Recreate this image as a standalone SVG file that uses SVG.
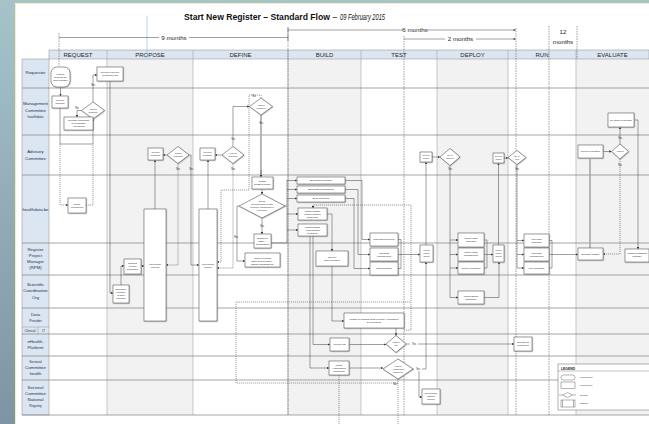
<svg xmlns="http://www.w3.org/2000/svg" width="649" height="424" viewBox="0 0 649 424">
<style>
.lane{stroke:#7f7f7f;stroke-width:0.7}
.col{stroke:#a6a6a6;stroke-width:0.6}
.hdr{fill:#dce6f2;stroke:#8c8c8c;stroke-width:0.5}
.ht{font-family:"Liberation Sans",Arial,sans-serif;font-size:6px;fill:#262626;text-anchor:middle}
.lbl{font-family:"Liberation Sans",Arial,sans-serif;font-size:4.3px;fill:#203050;text-anchor:middle}
.lbs{font-family:"Liberation Sans",Arial,sans-serif;font-size:3.4px;fill:#203050;text-anchor:middle}
.b{fill:#fff;stroke:#404040;stroke-width:0.5;filter:url(#ds)}
.t{font-family:"Liberation Sans",Arial,sans-serif;font-size:2.4px;fill:#222;text-anchor:middle}
.ts{font-family:"Liberation Sans",Arial,sans-serif;font-size:2.1px;fill:#222;text-anchor:middle}
.yn{font-family:"Liberation Sans",Arial,sans-serif;font-size:2.6px;fill:#222;text-anchor:middle}
.c{fill:none;stroke:#404040;stroke-width:0.5}
.ca{fill:none;stroke:#404040;stroke-width:0.5;marker-end:url(#ah)}
.d{fill:none;stroke:#404040;stroke-width:0.5;stroke-dasharray:1.2 0.8}
.da{fill:none;stroke:#404040;stroke-width:0.5;stroke-dasharray:1.2 0.8;marker-end:url(#ah)}
.th{fill:none;stroke:#a6a6a6;stroke-width:1.6}
.tl{fill:none;stroke:#404040;stroke-width:0.5}
.tld{fill:none;stroke:#404040;stroke-width:0.5;stroke-dasharray:1.5 1}
.mt{font-family:"Liberation Sans",Arial,sans-serif;font-size:6.2px;fill:#262626;text-anchor:middle}
.tt{font-family:"Liberation Sans",Arial,sans-serif;font-size:8.4px;fill:#111}
</style>
<defs>
<linearGradient id="bg" x1="0" y1="0" x2="0" y2="1"><stop offset="0" stop-color="#a6c3ca"/><stop offset="1" stop-color="#7d95a2"/></linearGradient>
<filter id="ds" x="-20%" y="-20%" width="150%" height="150%"><feDropShadow dx="0.5" dy="0.5" stdDeviation="0.3" flood-color="#888" flood-opacity="0.8"/></filter>
<marker id="ah" viewBox="0 0 6 6" refX="5.6" refY="3" markerWidth="2.4" markerHeight="2.4" markerUnits="userSpaceOnUse" orient="auto"><path d="M0,0 L6,3 L0,6 z" fill="#333"/></marker>
</defs>

<g id="background">
<rect width="649" height="424" fill="url(#bg)"/>
<rect x="15" y="3" width="634" height="421" fill="#f4f1b8"/>
<rect x="16.2" y="4" width="633" height="420" fill="#ffffff"/>
</g>

<g id="grid">
<rect x="107" y="59" width="86" height="356" fill="#f2f2f2"/>
<rect x="288" y="59" width="73" height="356" fill="#f2f2f2"/>
<rect x="437" y="59" width="71" height="356" fill="#f2f2f2"/>
<rect x="576" y="59" width="73" height="356" fill="#f2f2f2"/>
<rect class="hdr" x="49" y="50" width="600" height="9"/>
<rect class="hdr" x="22" y="59" width="27" height="356"/>
<g class="col">
<line x1="107" y1="50" x2="107" y2="415"/><line x1="193" y1="50" x2="193" y2="415"/>
<line x1="288" y1="50" x2="288" y2="415"/><line x1="361" y1="50" x2="361" y2="415"/>
<line x1="437" y1="50" x2="437" y2="415"/><line x1="508" y1="50" x2="508" y2="415"/>
<line x1="576" y1="50" x2="576" y2="415"/>
</g>
<g class="lane">
<line x1="22" y1="88" x2="649" y2="88"/><line x1="22" y1="135" x2="649" y2="135"/>
<line x1="22" y1="175" x2="649" y2="175"/><line x1="22" y1="243" x2="649" y2="243"/>
<line x1="22" y1="275" x2="649" y2="275"/><line x1="22" y1="308" x2="649" y2="308"/>
<line x1="22" y1="334" x2="649" y2="334"/><line x1="22" y1="356" x2="649" y2="356"/>
<line x1="22" y1="380" x2="649" y2="380"/><line x1="22" y1="415" x2="649" y2="415"/>
<line x1="22" y1="327" x2="49" y2="327" stroke-width="0.4"/><line x1="38" y1="327" x2="38" y2="334" stroke-width="0.4"/>
</g>
<text class="ht" x="78" y="57.3">REQUEST</text>
<text class="ht" x="150" y="57.3">PROPOSE</text>
<text class="ht" x="240.5" y="57.3">DEFINE</text>
<text class="ht" x="324.5" y="57.3">BUILD</text>
<text class="ht" x="399" y="57.3">TEST</text>
<text class="ht" x="472.5" y="57.3">DEPLOY</text>
<text class="ht" x="542" y="57.3">RUN</text>
<text class="ht" x="612.5" y="57.3">EVALUATE</text>
<text class="lbl" x="35.5" y="73.5">Requestor</text>
<text class="lbl" x="35.5" y="105">Management</text>
<text class="lbl" x="35.5" y="111.5">Committee</text>
<text class="lbs" x="35.5" y="118">healthdata</text>
<text class="lbl" x="35.5" y="153">Advisory</text>
<text class="lbl" x="35.5" y="159.5">Committee</text>
<text class="lbl" x="35.5" y="211">healthdata.be</text>
<text class="lbl" x="35.5" y="251">Register</text>
<text class="lbl" x="35.5" y="257">Project</text>
<text class="lbl" x="35.5" y="263">Manager</text>
<text class="lbl" x="35.5" y="269">(RPM)</text>
<text class="lbl" x="35.5" y="286">Scientific</text>
<text class="lbl" x="35.5" y="292">Coordination</text>
<text class="lbl" x="35.5" y="298.5">Org</text>
<text class="lbl" x="35.5" y="316">Data</text>
<text class="lbs" x="35.5" y="322">Provider</text>
<text class="lbs" x="30" y="332.3">Clinical</text>
<text class="lbs" x="43.5" y="332.3">IT</text>
<text class="lbl" x="35.5" y="343">eHealth-</text>
<text class="lbl" x="35.5" y="349">Platform</text>
<text class="lbs" x="35.5" y="362.5">Sectoral</text>
<text class="lbl" x="35.5" y="369">Committee</text>
<text class="lbl" x="35.5" y="375">health</text>
<text class="lbl" x="35.5" y="389">Sectoral</text>
<text class="lbl" x="35.5" y="395">Committee</text>
<text class="lbl" x="35.5" y="401">National</text>
<text class="lbs" x="35.5" y="407">Registry</text>
</g>

<g id="title">
<text class="tt" x="184" y="20" font-weight="bold" textLength="146" lengthAdjust="spacingAndGlyphs">Start New Register – Standard Flow</text>
<text class="tt" x="332.5" y="20">–</text>
<text class="tt" x="340" y="20" font-size="6.8" font-style="italic" textLength="45" lengthAdjust="spacingAndGlyphs">09 February 2015</text>
</g>

<g id="timeline">
<line x1="147" y1="16" x2="147" y2="59" stroke="#9dc3e6" stroke-width="0.7"/>
<line class="tld" x1="59" y1="33" x2="59" y2="66"/>
<path class="tl" d="M59,37.5 H159 M189,37.5 H288 M288,34 V41"/>
<text class="mt" x="174" y="39.6">9 months</text>
<line class="tld" x1="288" y1="28" x2="288" y2="415"/>
<path class="tl" d="M288,27 V33 M288,30 H403 M427,30 H515"/>
<path d="M516,30 l-2.4,-1.1 v2.2 z" fill="#333"/>
<text class="mt" x="415" y="32">6 months</text>
<line class="tld" x1="404" y1="36" x2="404" y2="415"/>
<path class="tl" d="M404,39 H445 M476,39 H515"/>
<path d="M516,39 l-2.4,-1.1 v2.2 z" fill="#333"/>
<text class="mt" x="460.5" y="41">2 months</text>
<line class="tld" x1="516" y1="28" x2="516" y2="415"/>
<line class="tld" x1="549" y1="26" x2="549" y2="415"/>
<line class="tld" x1="577" y1="26" x2="577" y2="59"/>
<text class="mt" x="563" y="34" font-size="5.6">12</text>
<text class="mt" x="563" y="44" font-size="5.6">months</text>
</g>

<g id="connectors">
<path class="ca" d="M60.5,87 V96"/>
<path class="ca" d="M60,108 V144 H93 V119.2"/>
<path class="ca" d="M81.5,110.5 H77 V117"/>
<path class="ca" d="M93,102 V75 H97"/>
<path class="da" d="M60,144 V205 H68"/>
<path class="d" d="M86,205 H93 V144"/>
<path class="ca" d="M110,81 V293 H113"/>
<path class="ca" d="M121,285 V266 H124"/>
<path class="ca" d="M141,266 H144"/>
<path class="ca" d="M155,209 V160"/>
<path class="ca" d="M167,155 H163"/>
<path class="da" d="M178,163.5 V265 H166"/>
<path class="ca" d="M189,155 H191 V265 H199"/>
<path class="ca" d="M208,209 V160"/>
<path class="ca" d="M222,155 H215"/>
<path class="ca" d="M233,146.5 V106.5 H249.5"/>
<path class="da" d="M233,163.5 V268 H217"/>
<path class="th" d="M261,115 V176"/>
<path class="ca" d="M261,170 V177"/>
<path class="da" d="M261,98 V95 H249 V190 H221 V262 H217"/>
<path class="ca" d="M262,189 V194"/>
<path class="ca" d="M262,218 V234"/>
<path class="ca" d="M239,206 H237 V261 H245"/>
<path class="c" d="M271,243 H287 V180 M285,206 H287"/>
<path class="ca" d="M287,180.5 H297"/>
<path class="ca" d="M287,189.5 H297"/>
<path class="ca" d="M287,198.5 H297"/>
<path class="ca" d="M287,214 H298"/>
<path class="ca" d="M287,230 H298"/>
<path class="ca" d="M345,180.5 H362 V239.5 H370"/>
<path class="ca" d="M345,189.5 H358 V254.5 H370"/>
<path class="ca" d="M345,198.5 H354 V268.5 H370"/>
<path class="c" d="M398,239.5 H401 V268.5 H398"/>
<path class="ca" d="M398,254.5 H420"/>
<path class="ca" d="M426,245 V162"/>
<path class="ca" d="M432,157 H440"/>
<path class="c" d="M450,165.5 V297.5"/>
<path class="ca" d="M450,240 H458"/>
<path class="ca" d="M450,254.5 H458"/>
<path class="ca" d="M450,268 H458"/>
<path class="ca" d="M450,297.5 H458"/>
<path class="c" d="M484,240 H487 V268 H484"/>
<path class="ca" d="M484,254.5 H493"/>
<path class="ca" d="M484,297.5 H499 V262"/>
<path class="ca" d="M498.5,245 V163"/>
<path class="ca" d="M504,158 H508"/>
<path class="c" d="M517,164.5 V268"/>
<path class="ca" d="M517,240.5 H524"/>
<path class="ca" d="M517,254.5 H524"/>
<path class="ca" d="M517,268 H524"/>
<path class="c" d="M549,240.5 H552 V268 H549"/>
<path class="ca" d="M549,254.5 H578"/>
<path class="th" d="M590,248 V159"/>
<path class="ca" d="M603,151.5 H611.5"/>
<path class="ca" d="M620,144 V127"/>
<path class="da" d="M620,159 V254 H603"/>
<path class="ca" d="M634,120 H638 V249"/>
<path class="ca" d="M327,214 H332 V251"/>
<path class="ca" d="M332,266 V321 H344"/>
<path class="ca" d="M313,236 V344.5 H330"/>
<path class="ca" d="M310,236 V368 H329"/>
<path class="ca" d="M349,344.5 H386"/>
<path class="ca" d="M396,328 V335.5"/>
<path class="ca" d="M406,344 H514"/>
<path class="ca" d="M349,368 H383"/>
<path class="ca" d="M413,369 H426 V262"/>
<path class="ca" d="M419,369 V397 H422"/>
<path class="da" d="M404,330 H411 V205 H313 V208"/>
<path class="d" d="M398,379 V383 H236 V302 H411"/>
<path class="d" d="M339,375 V424"/>
<path class="d" d="M398,383 V424"/>
<text class="yn" x="93" y="86">Yes</text>
<text class="yn" x="77" y="109">No</text>
<text class="yn" x="178" y="170">No</text>
<text class="yn" x="191" y="170">Yes</text>
<text class="yn" x="233" y="140">Yes</text>
<text class="yn" x="233" y="170">No</text>
<text class="yn" x="254" y="97">No</text>
<text class="yn" x="261" y="124">Yes</text>
<text class="yn" x="262" y="227">Yes</text>
<text class="yn" x="236" y="238">No</text>
<text class="yn" x="450" y="169.5">Yes</text>
<text class="yn" x="517" y="169.5">Yes</text>
<text class="yn" x="620" y="139">Yes</text>
<text class="yn" x="620" y="166">No</text>
<rect x="410" y="342" width="8" height="4" fill="#fff"/>
<text class="yn" x="414" y="345">Yes</text>
<rect x="414" y="367" width="8" height="4" fill="#fff"/>
<text class="yn" x="418" y="370">Yes</text>
<text class="yn" x="395" y="385">No</text>
</g>

<g id="n-launch"><rect class="b" x="51" y="67" width="19" height="20" rx="6"/><text class="t" x="60.5" y="74.9">Launch</text><text class="t" x="60.5" y="77.9">Request for</text><text class="t" x="60.5" y="80.9">New Register</text></g>
<g id="n-determine-sco"><rect class="b" x="97" y="67" width="26" height="14"/><text class="ts" x="110" y="73.4">Determine Scientific</text><text class="ts" x="110" y="76.4">Coordination Org</text></g>
<g id="n-review-request"><rect class="b" x="52" y="96" width="16" height="12"/><text class="t" x="60" y="101.4">Review</text><text class="t" x="60" y="104.4">Request</text></g>
<g id="n-approve-request"><polygon class="b" points="93,102 104.5,110.5 93,119 81.5,110.5"/><text class="ts" x="93" y="109.9">Approve</text><text class="ts" x="93" y="112.9">Request?</text></g>
<g id="n-welcome"><rect class="b" x="64" y="117" width="29" height="13"/><text class="t" x="78.5" y="121.4">Welcome Requestor</text><text class="t" x="78.5" y="124.4">&amp; Investigate</text><text class="t" x="78.5" y="127.4">Alternatives</text></g>
<g id="n-refine"><rect class="b" x="68" y="198" width="18" height="15"/><text class="t" x="77" y="204.9">Refine</text><text class="t" x="77" y="207.9">Procedures</text></g>
<g id="n-review-proposal"><rect class="b" x="148" y="148" width="15" height="12"/><text class="t" x="155.5" y="153.4">Review</text><text class="t" x="155.5" y="156.4">Proposal</text></g>
<g id="n-approve-proposal"><polygon class="b" points="178,146.5 189,155 178,163.5 167,155"/><text class="ts" x="178" y="154.4">Approve</text><text class="ts" x="178" y="157.4">Proposal?</text></g>
<g id="n-review-protocol"><rect class="b" x="200" y="148" width="15" height="12"/><text class="t" x="207.5" y="153.4">Review</text><text class="t" x="207.5" y="156.4">Protocol</text></g>
<g id="n-approve-protocol-ac"><polygon class="b" points="233,146.5 244,155 233,163.5 222,155"/><text class="ts" x="233" y="154.4">Approve</text><text class="ts" x="233" y="157.4">Protocol?</text></g>
<g id="n-approve-protocol-mc"><polygon class="b" points="261,98 272.5,106.5 261,115 249.5,106.5"/><text class="ts" x="261" y="105.9">Approve</text><text class="ts" x="261" y="108.9">Protocol?</text></g>
<g id="n-update-rpsb"><rect class="b" x="252" y="177" width="21" height="12"/><text class="t" x="262.5" y="182.4">Update</text><text class="t" x="262.5" y="185.4">RPSB Inventory</text></g>
<g id="n-overall"><polygon class="b" points="262,194 285,206 262,218 239,206"/><text class="ts" x="262" y="202.4">Overall</text><text class="ts" x="262" y="205.4">implementation for data</text><text class="ts" x="262" y="208.4">collection, management &amp;</text><text class="ts" x="262" y="211.4">reporting?</text></g>
<g id="n-outsource"><rect class="b" x="254" y="234" width="17" height="14"/><text class="t" x="262.5" y="238.9">Outsource</text><text class="t" x="262.5" y="241.9">RBMI –</text><text class="t" x="262.5" y="244.9">Coordination</text></g>
<g id="n-control-process"><rect class="b" x="245" y="253" width="35" height="14"/><text class="t" x="262.5" y="258.9">Control Process</text><text class="t" x="262.5" y="261.9">'Start New Register –</text><text class="t" x="262.5" y="264.9">without healthdata.be'</text></g>
<g id="n-build"><rect class="b" x="297" y="177" width="48" height="7"/><text class="t" x="321" y="181.4">Build Data Collection</text><rect class="b" x="297" y="186" width="48" height="7"/><text class="t" x="321" y="190.4">Build Data Management</text><rect class="b" x="297" y="195" width="48" height="7"/><text class="t" x="321" y="199.4">Build Reporting</text></g>
<g id="n-init-udr"><rect class="b" x="298" y="208" width="29" height="12"/><text class="t" x="312.5" y="211.9">Initiate/Update</text><text class="t" x="312.5" y="214.9">Unique Domain</text><text class="t" x="312.5" y="217.9">Resolution</text></g>
<g id="n-init-auth"><rect class="b" x="298" y="224" width="29" height="12"/><text class="t" x="312.5" y="227.9">Initiate/Update</text><text class="t" x="312.5" y="230.9">Authentication</text><text class="t" x="312.5" y="233.9">Frequency</text></g>
<g id="n-rollout"><rect class="b" x="316" y="251" width="32" height="15"/><text class="t" x="332" y="257.9">Roll-out</text><text class="t" x="332" y="260.9">Data Providers</text></g>
<g id="n-write-proposal"><rect class="b" x="144" y="209" width="22" height="112"/><text class="ts" x="155" y="265.4">Write/Update</text><text class="ts" x="155" y="268.4">Proposal</text></g>
<g id="n-write-protocol"><rect class="b" x="199" y="209" width="18" height="112"/><text class="ts" x="208" y="265.4">Write/Update</text><text class="ts" x="208" y="268.4">Protocol</text></g>
<g id="n-contract-ac"><rect class="b" x="124" y="259" width="17" height="15"/><text class="t" x="132.5" y="264.4">Contract</text><text class="t" x="132.5" y="267.4">Advisory</text><text class="t" x="132.5" y="270.4">Committee</text></g>
<g id="n-determine-rpm"><rect class="b" x="113" y="285" width="16" height="18"/><text class="t" x="121" y="290.4">Determine</text><text class="t" x="121" y="293.4">Register</text><text class="t" x="121" y="296.4">Project</text><text class="t" x="121" y="299.4">Manager</text></g>
<g id="n-test"><rect class="b" x="370" y="233" width="28" height="13"/><text class="t" x="384" y="240.4">Test Data Collection</text><rect class="b" x="370" y="248" width="28" height="13"/><text class="t" x="384" y="253.9">Test Data</text><text class="t" x="384" y="256.9">Management</text><rect class="b" x="370" y="262" width="28" height="13"/><text class="t" x="384" y="269.4">Test Reporting</text></g>
<g id="n-interim-test"><rect class="b" x="420" y="245" width="13" height="17"/><text class="ts" x="426.5" y="251.4">Interim</text><text class="ts" x="426.5" y="254.4">Status</text><text class="ts" x="426.5" y="257.4">Report</text></g>
<g id="n-review-status-test"><rect class="b" x="420" y="152" width="12" height="10"/><text class="ts" x="426" y="156.4">Review</text><text class="ts" x="426" y="159.4">Status</text></g>
<g id="n-ok-deploy"><polygon class="b" points="450,148.5 460,157 450,165.5 440,157"/><text class="ts" x="450" y="156.4">OK to</text><text class="ts" x="450" y="159.4">deploy?</text></g>
<g id="n-update-integrate"><rect class="b" x="344" y="313" width="60" height="15"/><text class="t" x="374" y="319.9">Update &amp; Integrate Data Provider Applications</text><text class="t" x="374" y="322.9">&amp; Procedures</text></g>
<g id="n-review-uo"><rect class="b" x="330" y="338" width="19" height="13"/><text class="t" x="339.5" y="345.4">Review UO</text></g>
<g id="n-approve-uo"><polygon class="b" points="396,335.5 406,344 396,352.5 386,344"/><text class="ts" x="396" y="343.4">Approve</text><text class="ts" x="396" y="346.4">UO</text></g>
<g id="n-release"><rect class="b" x="514" y="337" width="18" height="14"/><text class="t" x="523" y="343.4">Release for</text><text class="t" x="523" y="346.4">Production</text></g>
<g id="n-init-authreq"><rect class="b" x="329" y="361" width="20" height="14"/><text class="t" x="339" y="365.9">Initiate</text><text class="t" x="339" y="368.9">Authorisation</text><text class="t" x="339" y="371.9">Request(s)</text></g>
<g id="n-approve-authreq"><polygon class="b" points="398,359 413,369 398,379 383,369"/><text class="ts" x="398" y="366.9">Approve</text><text class="ts" x="398" y="369.9">Authorisation</text><text class="ts" x="398" y="372.9">Request(s)</text></g>
<g id="n-notify"><rect class="b" x="422" y="389" width="18" height="15"/><text class="ts" x="431" y="394.4">Notify/Update</text><text class="ts" x="431" y="397.4">National</text><text class="ts" x="431" y="400.4">Registry</text></g>
<g id="n-deploy"><rect class="b" x="458" y="233" width="26" height="14"/><text class="t" x="471" y="239.4">Deploy Data</text><text class="t" x="471" y="242.4">Collection</text><rect class="b" x="458" y="248" width="26" height="13"/><text class="t" x="471" y="253.4">Deploy Data</text><text class="t" x="471" y="256.4">Management</text><rect class="b" x="458" y="262" width="26" height="12"/><text class="t" x="471" y="268.9">Deploy Reporting</text></g>
<g id="n-interim-deploy"><rect class="b" x="493" y="245" width="11" height="17"/><text class="ts" x="498.5" y="251.4">Interim</text><text class="ts" x="498.5" y="254.4">Status</text><text class="ts" x="498.5" y="257.4">Report</text></g>
<g id="n-inform-ethical"><rect class="b" x="458" y="291" width="26" height="13"/><text class="t" x="471" y="296.9">Inform Ethical</text><text class="t" x="471" y="299.9">Committee</text></g>
<g id="n-review-status-deploy"><rect class="b" x="493" y="153" width="11" height="10"/><text class="ts" x="498.5" y="157.4">Review</text><text class="ts" x="498.5" y="160.4">Status</text></g>
<g id="n-ok-run"><polygon class="b" points="517,150.5 526,157.5 517,164.5 508,157.5"/><text class="ts" x="517" y="156.9">OK to</text><text class="ts" x="517" y="159.9">run?</text></g>
<g id="n-run"><rect class="b" x="524" y="234" width="25" height="13"/><text class="t" x="536.5" y="239.9">Run Data</text><text class="t" x="536.5" y="242.9">Collection</text><rect class="b" x="524" y="248" width="25" height="13"/><text class="t" x="536.5" y="253.9">Run Data</text><text class="t" x="536.5" y="256.9">Management</text><rect class="b" x="524" y="262" width="25" height="12"/><text class="t" x="536.5" y="268.9">Run Reporting</text></g>
<g id="n-evaluate"><rect class="b" x="578" y="248" width="25" height="12"/><text class="t" x="590.5" y="254.9">Evaluate register</text></g>
<g id="n-review-eval"><rect class="b" x="578" y="145" width="25" height="13"/><text class="t" x="590.5" y="152.4">Review evaluation</text></g>
<g id="n-approve-eval"><polygon class="b" points="620,144 628.5,151.5 620,159 611.5,151.5"/><text class="ts" x="620" y="152.4">Approve</text></g>
<g id="n-reaction"><rect class="b" x="608" y="113" width="26" height="14"/><text class="t" x="621" y="120.9">Re-action evaluation</text></g>
<g id="n-update-register"><rect class="b" x="625" y="249" width="24" height="13"/><text class="t" x="637" y="254.4">Update healthdata</text><text class="t" x="637" y="257.4">Register</text></g>

<g id="legend">
<rect x="558" y="364" width="95" height="46" fill="#fff" stroke="#666" stroke-width="0.5"/>
<text x="561" y="369.7" font-family="'Liberation Sans',Arial,sans-serif" font-size="3.4" font-weight="bold" fill="#222">LEGEND</text>
<line x1="558" y1="371" x2="649" y2="371" stroke="#666" stroke-width="0.4"/>
<rect x="561" y="375" width="14" height="5" rx="2.5" fill="#fff" stroke="#444" stroke-width="0.4"/>
<text x="580" y="378.3" font-family="'Liberation Sans',Arial,sans-serif" font-size="2.1" fill="#222">Process Start</text>
<rect x="561" y="382" width="14" height="6.5" fill="#fff" stroke="#444" stroke-width="0.4"/>
<text x="580" y="386" font-family="'Liberation Sans',Arial,sans-serif" font-size="2.1" fill="#222">Process Step</text>
<path d="M559,395 H562.5 M572.5,395 H576" stroke="#444" stroke-width="0.4"/>
<polygon points="567.5,392.5 572.5,395 567.5,397.5 562.5,395" fill="#fff" stroke="#444" stroke-width="0.4"/>
<text x="580" y="395.8" font-family="'Liberation Sans',Arial,sans-serif" font-size="2.1" fill="#222">Decision</text>
<rect x="561" y="400" width="14" height="7" fill="#fff" stroke="#444" stroke-width="0.4"/>
<path d="M562.5,400 V407 M573.5,400 V407" stroke="#444" stroke-width="0.4"/>
<text x="580" y="404.3" font-family="'Liberation Sans',Arial,sans-serif" font-size="2.1" fill="#222">Endpoint</text>
</g>
</svg>
